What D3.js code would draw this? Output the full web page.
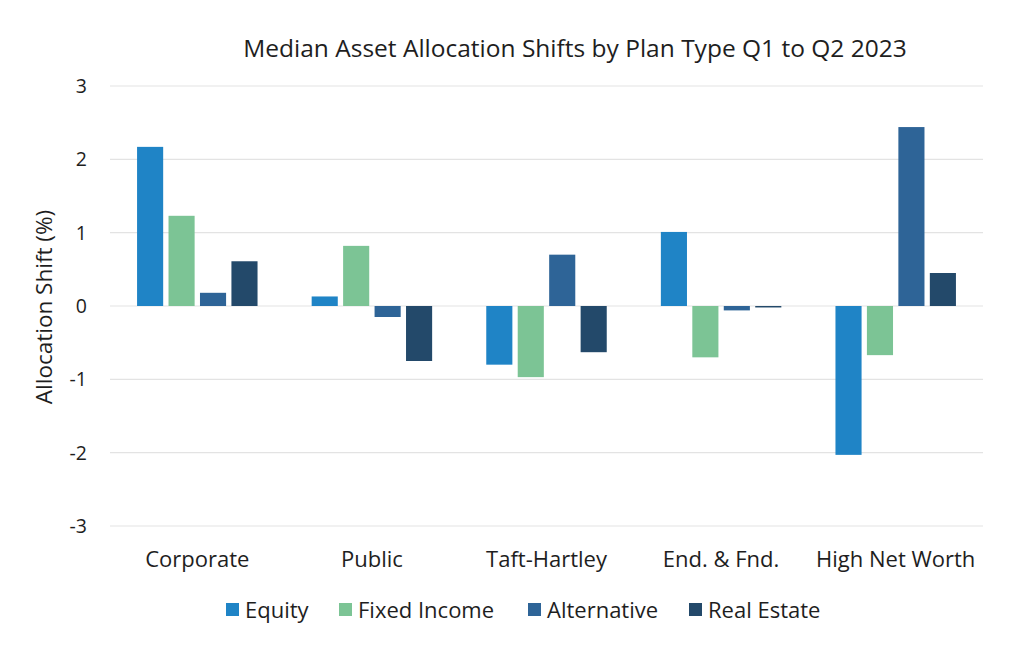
<!DOCTYPE html>
<html>
<head>
<meta charset="utf-8">
<script src="https://cdn.jsdelivr.net/npm/d3@7"></script>
<style>
  body { margin: 0; background: #fff; }
  svg text { font-family: "Open Sans", Lato, sans-serif; fill: #1e1e1e; }
</style>
</head>
<body>
<div id="chart"></div>
<script>
const categories = ["Corporate", "Public", "Taft-Hartley", "End. & Fnd.", "High Net Worth"];
const seriesNames = ["Equity", "Fixed Income", "Alternative", "Real Estate"];
const equity      = [2.17, 0.13, -0.80, 1.01, -2.03];
const fixedIncome = [1.23, 0.82, -0.97, -0.70, -0.67];
const alternative = [0.18, -0.15, 0.70, -0.06, 2.44];
const realEstate  = [0.61, -0.75, -0.63, -0.02, 0.45];
const yTicks = [-3, -2, -1, 0, 1, 2, 3];

const colors = ["#1f84c6", "#7cc495", "#2e6497", "#23496a"];
const series = [equity, fixedIncome, alternative, realEstate];

const width = 1024, height = 654;
const margin = { top: 86, right: 41, bottom: 128, left: 110 };

const svg = d3.select("#chart").append("svg")
  .attr("width", width)
  .attr("height", height);

const x0 = d3.scaleBand()
  .domain(categories)
  .range([margin.left, width - margin.right])
  .paddingInner(0.31)
  .paddingOuter(0.155);

const x1 = d3.scaleBand()
  .domain(seriesNames)
  .range([0, x0.bandwidth()])
  .paddingInner(0.17);

const y = d3.scaleLinear()
  .domain([-3, 3])
  .range([height - margin.bottom, margin.top]);

// grid
svg.append("g")
  .selectAll("line")
  .data(yTicks)
  .join("line")
  .attr("x1", margin.left)
  .attr("x2", width - margin.right)
  .attr("y1", d => y(d))
  .attr("y2", d => y(d))
  .attr("stroke", "#e3e3e3")
  .attr("stroke-width", 1.2);

// y tick labels
svg.append("g")
  .selectAll("text")
  .data(yTicks)
  .join("text")
  .attr("x", 87)
  .attr("y", d => y(d))
  .attr("dy", "0.36em")
  .attr("text-anchor", "end")
  .style("font-size", "19.5px")
  .text(d => d);

// bars
const groups = svg.append("g")
  .selectAll("g")
  .data(categories)
  .join("g")
  .attr("transform", d => "translate(" + x0(d) + ",0)");

groups.selectAll("rect")
  .data((c, i) => seriesNames.map((s, j) => ({ s: s, j: j, v: series[j][i] })))
  .join("rect")
  .attr("x", d => x1(d.s))
  .attr("width", x1.bandwidth())
  .attr("y", d => y(Math.max(0, d.v)))
  .attr("height", d => Math.abs(y(d.v) - y(0)))
  .attr("fill", d => colors[d.j]);

// category labels
svg.append("g")
  .selectAll("text")
  .data(categories)
  .join("text")
  .attr("x", d => x0(d) + x0.bandwidth() / 2)
  .attr("y", 567)
  .attr("text-anchor", "middle")
  .style("font-size", "22px")
  .text(d => d);

// title
svg.append("text")
  .attr("x", 575)
  .attr("y", 57)
  .attr("text-anchor", "middle")
  .style("font-size", "24.5px")
  .text("Median Asset Allocation Shifts by Plan Type Q1 to Q2 2023");

// y axis label
svg.append("text")
  .attr("transform", "translate(52,307) rotate(-90)")
  .attr("text-anchor", "middle")
  .style("font-size", "22.5px")
  .text("Allocation Shift (%)");

// legend
const legendX = [226, 339, 528, 689];
const legend = svg.append("g")
  .selectAll("g")
  .data(seriesNames)
  .join("g")
  .attr("transform", (d, i) => "translate(" + legendX[i] + ",610)");

legend.append("rect")
  .attr("x", 0)
  .attr("y", -7)
  .attr("width", 13)
  .attr("height", 13)
  .attr("fill", (d, i) => colors[i]);

legend.append("text")
  .attr("x", 19)
  .attr("y", 0)
  .attr("dy", "0.35em")
  .style("font-size", "22px")
  .text(d => d);
</script>
</body>
</html>
